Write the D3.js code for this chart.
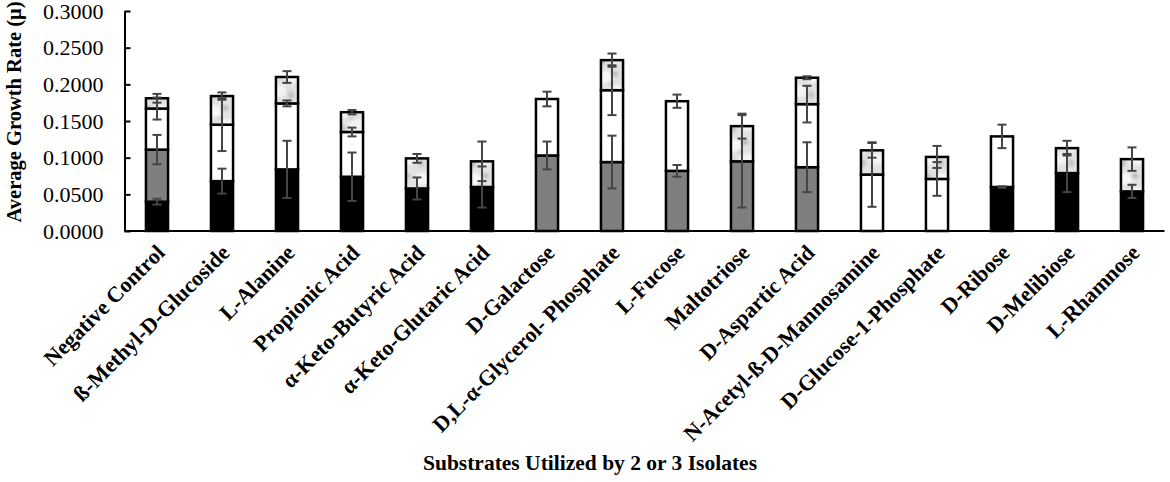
<!DOCTYPE html>
<html>
<head>
<meta charset="utf-8">
<script src="https://cdn.jsdelivr.net/npm/d3@7"></script>
<style>
  body { margin: 0; background: #fff; }
  text { font-family: "Liberation Serif", "Times New Roman", serif; fill: #000; }
</style>
</head>
<body>
<svg id="chart" width="1170" height="482"></svg>
<script>
// categories on the x axis
const substrates = [
  "Negative Control", "\u00DF-Methyl-D-Glucoside", "L-Alanine", "Propionic Acid",
  "\u03B1-Keto-Butyric Acid", "\u03B1-Keto-Glutaric Acid", "D-Galactose",
  "D,L-\u03B1-Glycerol- Phosphate", "L-Fucose", "Maltotriose", "D-Aspartic Acid",
  "N-Acetyl-\u00DF-D-Mannosamine", "D-Glucose-1-Phosphate", "D-Ribose",
  "D-Melibiose", "L-Rhamnose"
]

// stacked segments, bottom to top (black, gray, white, marbled)
const seriesBlack = [0.040, 0.068, 0.084, 0.074, 0.058, 0.060, 0, 0, 0, 0, 0, 0, 0, 0.060, 0.079, 0.054]
const seriesGray  = [0.071, 0, 0, 0, 0, 0, 0.103, 0.094, 0.082, 0.095, 0.087, 0, 0, 0, 0, 0]
const seriesWhite = [0.056, 0.077, 0.090, 0.061, 0, 0, 0.077, 0.098, 0.095, 0, 0.086, 0.077, 0.071, 0.069, 0, 0]
const seriesMarble = [0.014, 0.039, 0.036, 0.027, 0.041, 0.035, 0, 0.041, 0, 0.048, 0.036, 0.033, 0.030, 0, 0.034, 0.044]

// error bar half-lengths for each segment
const errBlack = [0.004, 0.017, 0.039, 0.033, 0.015, 0.028, 0, 0, 0, 0, 0, 0, 0, 0.001, 0.026, 0.009]
const errGray  = [0.020, 0, 0, 0, 0, 0, 0.019, 0.036, 0.008, 0.063, 0.034, 0, 0, 0, 0, 0]
const errWhite = [0.015, 0.036, 0.004, 0.006, 0, 0, 0.010, 0.034, 0.009, 0, 0.025, 0.044, 0.023, 0.016, 0, 0]
const errMarble = [0.006, 0.005, 0.008, 0.003, 0.006, 0.027, 0, 0.009, 0, 0.017, 0.002, 0.010, 0.015, 0, 0.010, 0.016]

const yTicks = [0, 0.05, 0.10, 0.15, 0.20, 0.25, 0.30]

const keys = ["black", "gray", "white", "marble"]
const values = { black: seriesBlack, gray: seriesGray, white: seriesWhite, marble: seriesMarble }
const errors = { black: errBlack, gray: errGray, white: errWhite, marble: errMarble }
const fills = { black: "#000000", gray: "#7f7f7f", white: "#ffffff", marble: "url(#marble)" }

const rows = substrates.map((name, i) => {
  let r = { name }
  keys.forEach(k => r[k] = values[k][i])
  return r
})

const svg = d3.select("#chart")

// marbled fill for the top segment
const defs = svg.append("defs")
defs.append("filter").attr("id", "soft")
  .attr("x", "-50%").attr("y", "-50%").attr("width", "200%").attr("height", "200%")
  .append("feGaussianBlur").attr("stdDeviation", 1.8)
const pat = defs.append("pattern").attr("id", "marble")
  .attr("patternUnits", "userSpaceOnUse").attr("width", 26).attr("height", 34)
pat.append("rect").attr("width", 26).attr("height", 34).attr("fill", "#e2e2e2")
const blobs = pat.append("g").attr("filter", "url(#soft)")
blobs.append("ellipse").attr("cx", 6).attr("cy", 9).attr("rx", 8).attr("ry", 6).attr("fill", "#f7f7f7")
blobs.append("ellipse").attr("cx", 19).attr("cy", 23).attr("rx", 8).attr("ry", 6).attr("fill", "#f4f4f4")
blobs.append("ellipse").attr("cx", 17).attr("cy", 6).attr("rx", 3.5).attr("ry", 2.5).attr("fill", "#b8b8b8")
blobs.append("ellipse").attr("cx", 5).attr("cy", 27).attr("rx", 3).attr("ry", 4).attr("fill", "#c2c2c2")
blobs.append("ellipse").attr("cx", 13).attr("cy", 16).attr("rx", 3).attr("ry", 1.8).attr("fill", "#c8c8c8")

const x = d3.scaleBand()
  .domain(substrates)
  .range([124.5, 1164.5])
  .paddingInner(0.66)
  .paddingOuter(0.33)

const y = d3.scaleLinear().domain([0, 0.3]).range([231, 11])

const stacked = d3.stack().keys(keys)(rows)

// bars
const bars = svg.append("g").attr("id", "bars")
stacked.forEach(layer => {
  bars.append("g")
    .selectAll("rect")
    .data(layer.filter(d => d[1] - d[0] > 0))
    .enter()
    .append("rect")
    .attr("x", d => x(d.data.name))
    .attr("width", x.bandwidth())
    .attr("y", d => y(d[1]))
    .attr("height", d => y(d[0]) - y(d[1]))
    .attr("fill", fills[layer.key])
    .attr("stroke", "#000")
    .attr("stroke-width", 2.5)
})

// error bars at top of each segment
const errG = svg.append("g").attr("id", "errors")
  .attr("stroke", "#454545").attr("stroke-width", 2).attr("fill", "none")
stacked.forEach(layer => {
  layer.forEach((d, i) => {
    const e = errors[layer.key][i]
    if (d[1] - d[0] <= 0 || e <= 0) return
    const cx = x(d.data.name) + x.bandwidth() / 2
    const y1 = y(d[1] + e), y2 = y(d[1] - e)
    errG.append("line").attr("x1", cx).attr("x2", cx).attr("y1", y1).attr("y2", y2)
    errG.append("line").attr("x1", cx - 4.5).attr("x2", cx + 4.5).attr("y1", y1).attr("y2", y1)
    errG.append("line").attr("x1", cx - 4.5).attr("x2", cx + 4.5).attr("y1", y2).attr("y2", y2)
  })
})

// y axis
const yAxis = svg.append("g")
  .attr("transform", "translate(124.5,0)")
  .call(d3.axisLeft(y).tickValues(yTicks).tickFormat(d3.format(".4f"))
    .tickSize(-6).tickSizeOuter(0).tickPadding(21))
yAxis.select(".domain").attr("stroke", "#000").attr("stroke-width", 2)
yAxis.selectAll(".tick line").attr("stroke", "#000").attr("stroke-width", 2)
yAxis.selectAll(".tick text")
  .style("font-family", "'Liberation Serif', serif").style("font-size", "22px").attr("fill", "#000")

// x axis line
svg.append("line")
  .attr("x1", 124.5).attr("x2", 1164.5)
  .attr("y1", y(0)).attr("y2", y(0))
  .attr("stroke", "#000").attr("stroke-width", 2)

// category labels
svg.append("g").selectAll("text")
  .data(substrates).enter()
  .append("text")
  .attr("transform", d => `translate(${x(d) + x.bandwidth() / 2 + 9},254) rotate(-45)`)
  .attr("text-anchor", "end")
  .style("font-size", "22px")
  .style("font-weight", "bold")
  .text(d => d)

// axis titles
svg.append("text")
  .attr("x", 590).attr("y", 470)
  .attr("text-anchor", "middle")
  .style("font-size", "21.5px").style("font-weight", "bold")
  .text("Substrates Utilized by 2 or 3 Isolates")

svg.append("text")
  .attr("transform", "translate(21,112) rotate(-90)")
  .attr("text-anchor", "middle")
  .style("font-size", "20.5px").style("font-weight", "bold")
  .text("Average Growth Rate (\u03BC)")
</script>
</body>
</html>
